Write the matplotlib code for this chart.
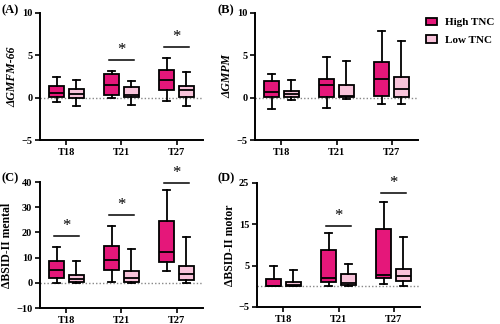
import matplotlib
matplotlib.use("Agg")
import matplotlib.pyplot as plt
from matplotlib.patches import Patch

plt.rcParams["font.family"] = ["Liberation Serif", "DejaVu Serif"]
plt.rcParams["font.weight"] = "bold"

TIMEPOINTS = ["T18", "T21", "T27"]
GROUPS = ["High TNC", "Low TNC"]
COLORS = {"High TNC": "#E5177A", "Low TNC": "#F8C3DA"}

# box stats per timepoint: (whisker low, q1, median, q3, whisker high)
gmfm_high = [(-0.55, 0.05, 0.6, 1.4, 2.4), (-0.05, 0.35, 1.5, 2.8, 3.2), (-0.45, 0.85, 2.05, 3.3, 4.7)]
gmfm_low = [(-0.95, -0.05, 0.45, 1.0, 2.1), (-0.9, 0.05, 0.3, 1.3, 2.0), (-1.0, 0.05, 0.9, 1.4, 3.0)]
gmpm_high = [(-1.35, 0.1, 0.7, 1.95, 2.75), (-1.2, 0.1, 1.45, 2.15, 4.85), (-0.75, 0.25, 2.25, 4.2, 7.85)]
gmpm_low = [(-0.3, 0.05, 0.4, 0.8, 2.05), (-0.2, 0.1, 0.25, 1.55, 4.35), (-0.75, 0.1, 1.0, 2.4, 6.7)]
mental_high = [(0.0, 2.1, 5.1, 8.8, 14.1), (0.5, 5.0, 8.9, 14.6, 22.4), (4.6, 8.3, 12.1, 24.6, 36.8)]
mental_low = [(0.1, 0.4, 1.7, 2.9, 8.55), (0.0, 0.3, 2.1, 4.7, 13.3), (0.0, 1.3, 3.6, 6.8, 18.3)]
motor_high = [(0.0, 0.0, 0.1, 1.85, 4.85), (0.0, 1.1, 2.0, 8.8, 12.9), (0.55, 2.0, 2.75, 13.9, 20.4)]
motor_low = [(0.0, 0.0, 0.4, 1.0, 4.0), (0.0, 0.25, 0.8, 3.0, 5.5), (0.0, 1.2, 2.6, 4.1, 12.0)]

# significance markers: (timepoint index, bar height, star height)
gmfm_sig = [(1, 4.4, 5.6), (2, 6.0, 7.2)]
mental_sig = [(0, 18.6, 22.6), (1, 26.8, 31.0), (2, 39.6, 43.7)]
motor_sig = [(1, 14.5, 17.0), (2, 22.7, 25.0)]

PANELS = [
    ("(A)", "ΔGMFM-66", "italic", gmfm_high, gmfm_low, gmfm_sig, (-5, 10), [-5, 0, 5, 10]),
    ("(B)", "ΔGMPM", "italic", gmpm_high, gmpm_low, [], (-5, 10), [-5, 0, 5, 10]),
    ("(C)", "ΔBSID-II mental", "normal", mental_high, mental_low, mental_sig, (-10, 40), [-10, 0, 10, 20, 30, 40]),
    ("(D)", "ΔBSID-II motor", "normal", motor_high, motor_low, motor_sig, (-5, 25), [-5, 5, 15, 25]),
]

W, H = 500, 324
RECTS = [(40, 13, 163, 127), (255, 13, 163, 127), (40, 182, 163, 126), (257, 183, 163, 124)]
LETTER_POS = [(2, 10), (218, 10), (2, 178), (218, 178)]


def to_stats(rows):
    return [dict(whislo=a, q1=b, med=c, q3=d, whishi=e) for a, b, c, d, e in rows]


fig = plt.figure(figsize=(W / 100, H / 100), dpi=100)

for (letter, ylabel, style, high, low, sig, ylim, yticks), (l, t, w, h), (lx, ly) in zip(PANELS, RECTS, LETTER_POS):
    ax = fig.add_axes([l / W, 1 - (t + h) / H, w / W, h / H])
    pos = list(range(len(TIMEPOINTS)))
    off, bw = 0.18, 0.27
    for rows, shift, grp in [(high, -off, "High TNC"), (low, off, "Low TNC")]:
        ax.bxp(to_stats(rows), positions=[p + shift for p in pos], widths=bw,
               capwidths=bw * 0.5, showfliers=False, patch_artist=True,
               boxprops=dict(facecolor=COLORS[grp], edgecolor="black", linewidth=1.3),
               medianprops=dict(color="black", linewidth=1.3),
               whiskerprops=dict(color="black", linewidth=1.3),
               capprops=dict(color="black", linewidth=1.3), zorder=3)
    ax.axhline(0, color="#888888", linestyle=(0, (1, 1.5)), linewidth=1.0, zorder=1)
    for i, ybar, ystar in sig:
        ax.plot([i - 0.23, i + 0.22], [ybar, ybar], color="black", linewidth=1.1, clip_on=False)
        ax.text(i, ystar, "*", ha="center", va="center", fontsize=12, fontweight="normal",
                clip_on=False)

    ax.set_xlim(-0.48, 2.48)
    ax.set_ylim(*ylim)
    ax.set_yticks(yticks)
    ax.set_xticks(pos)
    ax.set_xticklabels(TIMEPOINTS)
    ax.set_ylabel(ylabel, fontsize=8.5, fontweight="bold", fontstyle=style, labelpad=2)
    for s in ["top", "right"]:
        ax.spines[s].set_visible(False)
    for s in ["left", "bottom"]:
        ax.spines[s].set_linewidth(1.4)
    ax.tick_params(axis="both", width=1.2, length=3.5, labelsize=7.5, pad=2)
    fig.text(lx / W, 1 - ly / H, letter, fontsize=9, fontweight="bold", va="center", ha="left")

handles = [Patch(facecolor=COLORS[g], edgecolor="black", linewidth=1.3) for g in GROUPS]
fig.legend(handles, GROUPS, loc="upper left", bbox_to_anchor=(0.838, 0.966), frameon=False,
           handlelength=1.0, handleheight=0.6, labelspacing=0.75, handletextpad=0.7,
           borderaxespad=0.2, prop=dict(size=8, weight="bold"))

fig.savefig("out.png", dpi=100)
